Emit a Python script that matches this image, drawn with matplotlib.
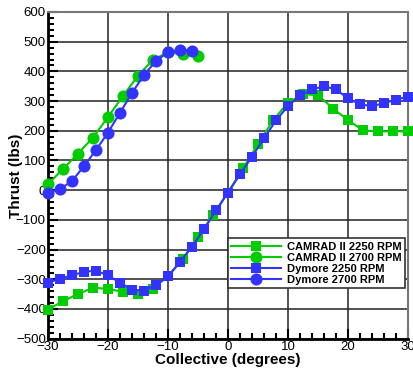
import numpy as np
import matplotlib
matplotlib.use("Agg")
import matplotlib.pyplot as plt
from matplotlib.ticker import MultipleLocator

plt.rcParams['font.family'] = ['Liberation Sans', 'DejaVu Sans']

# CAMRAD II, 2.5 deg steps
cam_x = np.arange(-30, 30.1, 2.5)
cam_2250 = [-402, -374, -350, -329, -332, -343, -351, -332, -290, -232, -157, -85,
            -8, 73, 155, 235, 295, 323, 320, 275, 236, 201, 198, 198, 198]
cam_2700_x = np.arange(-30, -4.9, 2.5)
cam_2700 = [20, 71, 123, 177, 246, 317, 385, 439, 464, 458, 451]

# Dymore, 2 deg steps
dym_x = np.arange(-30, 30.1, 2)
dym_2250 = [-311, -298, -287, -275, -271, -287, -311, -335, -338, -319, -290, -242,
            -190, -132, -68, -8, 53, 113, 174, 235, 283, 319, 339, 350, 339, 309,
            289, 283, 293, 305, 315]
dym_2700_x = np.arange(-30, -5.9, 2)
dym_2700 = [-8, 3, 31, 80, 135, 194, 260, 327, 388, 435, 465, 472, 469]

green = '#00cc00'
blue = '#3333ff'

fig = plt.figure(figsize=(4.13, 3.75), dpi=100)
ax = fig.add_axes([0.116, 0.097, 0.872, 0.871])

ax.plot(cam_x, cam_2250, '-s', color=green, ms=7.5, mew=0, lw=1.5, clip_on=False,
        zorder=3, label='CAMRAD II 2250 RPM')
ax.plot(cam_2700_x, cam_2700, '-o', color=green, ms=8.7, mew=0, lw=1.5, clip_on=False,
        zorder=3, label='CAMRAD II 2700 RPM')
ax.plot(dym_x, dym_2250, '-s', color=blue, ms=7.5, mew=0, lw=1.5, clip_on=False,
        zorder=4, label='Dymore 2250 RPM')
ax.plot(dym_2700_x, dym_2700, '-o', color=blue, ms=8.7, mew=0, lw=1.5, clip_on=False,
        zorder=4, label='Dymore 2700 RPM')

ax.set_xlim(-30, 30)
ax.set_ylim(-500, 600)
ax.xaxis.set_major_locator(MultipleLocator(10))
ax.xaxis.set_minor_locator(MultipleLocator(2))
ax.yaxis.set_major_locator(MultipleLocator(100))
ax.yaxis.set_minor_locator(MultipleLocator(20))
ax.tick_params(which='both', direction='in', top=False, right=False, width=1.5,
               labelsize=9.5, pad=1.5)
ax.tick_params(which='major', length=7)
ax.tick_params(which='minor', length=4)
ax.grid(True, which='major', color='#222222', lw=1.1, zorder=1)
ax.set_axisbelow(True)

for s in ['left', 'bottom']:
    ax.spines[s].set_linewidth(2)
    ax.spines[s].set_color('black')
for s in ['top', 'right']:
    ax.spines[s].set_linewidth(1.5)
    ax.spines[s].set_color('#777777')

ax.set_xlabel('Collective (degrees)', fontsize=11, fontweight='bold', labelpad=0)
ax.set_ylabel('Thrust (lbs)', fontsize=11, fontweight='bold')
ax.yaxis.set_label_coords(-0.068, 0.5)

leg = ax.legend(loc='lower left', bbox_to_anchor=(0.5, 0.154),
                prop={'weight': 'bold', 'size': 8}, frameon=True, fancybox=False,
                framealpha=1, edgecolor='#333333', handlelength=4.5,
                borderpad=0.3, labelspacing=0.1, handletextpad=0.5, borderaxespad=0)
leg.get_frame().set_linewidth(1.2)

fig.savefig('out.png', dpi=100)
